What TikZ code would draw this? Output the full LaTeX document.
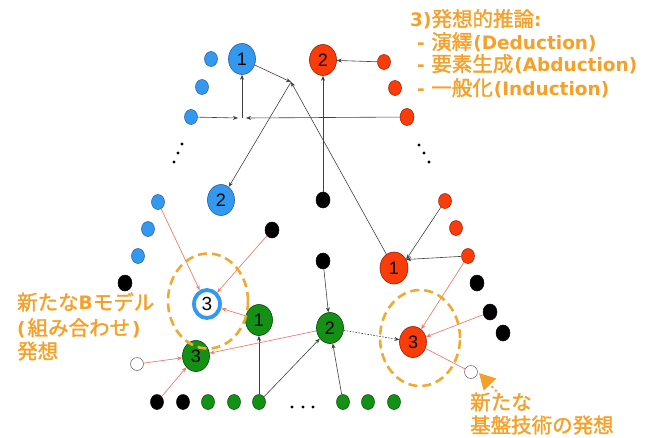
\documentclass[tikz,border=0pt]{standalone}
\usepackage{fontspec}
\setmainfont{DejaVu Sans}
\newfontfamily\cjk{Noto Sans CJK JP}[AutoFakeBold=1.6]
\newfontfamily\numf{Liberation Sans}
\usetikzlibrary{shapes.geometric,arrows.meta}
\definecolor{blueF}{RGB}{51,153,238}
\definecolor{blueD}{RGB}{40,90,160}
\definecolor{redF}{RGB}{250,60,10}
\definecolor{redD}{RGB}{150,30,0}
\definecolor{greenF}{RGB}{20,145,20}
\definecolor{greenD}{RGB}{0,70,0}
\definecolor{pinkL}{RGB}{240,125,110}
\definecolor{orangeT}{RGB}{245,160,40}
\definecolor{orangeD}{RGB}{240,170,50}
\newcommand\cj[1]{{\fontsize{20.5}{22}\selectfont\cjk #1}}
\tikzset{
  big/.style={ellipse, draw, line width=0.6pt, minimum width=27pt, minimum height=31pt, inner sep=0pt, font=\fontsize{18}{18}\selectfont\numf},
  sm/.style={ellipse, draw, line width=0.5pt, minimum width=13pt, minimum height=15pt, inner sep=0pt},
  blueN/.style={fill=blueF, draw=blueD},
  redN/.style={fill=redF, draw=redD},
  greenN/.style={fill=greenF, draw=greenD},
  dot/.style={sm, fill=black, draw=black, minimum width=14pt, minimum height=16pt},
  wdot/.style={circle, draw=black!55, fill=white, line width=0.6pt, minimum size=13pt, inner sep=0pt},
  ring/.style={ellipse, draw=blueF, fill=white, line width=3.8pt, minimum width=26pt, minimum height=28pt, inner sep=0pt, font=\fontsize{19}{19}\selectfont\numf},
  blk/.style={draw=black!75, line width=0.6pt, -{Stealth[length=5pt,width=4pt]}},
  pnk/.style={draw=pinkL, line width=0.7pt, -{Stealth[length=5pt,width=4pt]}},
  dashell/.style={ellipse, draw=orangeD, line width=2.6pt, dash pattern=on 9pt off 5pt, inner sep=0pt},
  otxt/.style={text=orangeT, font=\fontsize{18.5}{22}\selectfont\bfseries, inner sep=0pt, anchor=west}
}
\begin{document}
\begin{tikzpicture}[x=1pt,y=-1pt]
\useasboundingbox (0,0) rectangle (645,437);
% top
\node[big,blueN] (B1) at (242,59) {1};
\node[big,redN] (R2) at (323,60) {2};
\node[sm,blueN] (bs1) at (211,59) {};
\node[sm,blueN] (bs2) at (202,87) {};
\node[sm,blueN] (bs3) at (191,117) {};
\node[sm,redN] (rs1) at (384,62) {};
\node[sm,redN] (rs2) at (395,88) {};
\node[sm,redN, minimum width=14pt, minimum height=17pt] (rs3) at (407,117) {};
\coordinate (J1a) at (238,118);
\coordinate (J1b) at (246,118);
\coordinate (J1) at (242,118);
\draw[blk] (bs3) -- (J1a);
\draw[blk] (rs3) -- (J1b);
\draw[blk] (J1) -- (B1);
\draw[blk] (rs1) -- (R2);
\coordinate (J2) at (291,82);
\node[big,redN, minimum width=28pt, minimum height=32pt] (R1) at (394,268) {1};
\node[big,blueN] (B2) at (221,200) {2};
\draw[blk] (B1) -- (J2);
\draw[blk] (R1) -- (J2);
\draw[blk] (J2) -- (B2);
\node[dot] (k1) at (323,200) {};
\node[dot] (k2) at (323,261) {};
\node[big,greenN] (G2) at (330,328) {2};
\draw[blk] (k1) -- (R2);
\draw[blk] (k2) -- (G2);
% vertical ellipses
\foreach \p in {(182,144),(178,153),(174,162),(419,145),(424,153),(429,162)} \fill \p circle (1.6pt);
% left lower
\node[sm,blueN] (bs4) at (158,202) {};
\node[sm,blueN] (bs5) at (148,229) {};
\node[sm,blueN] (bs6) at (138,256) {};
\node[dot] (k3) at (125,283) {};
\node[dot] (k4) at (272,230) {};
\node[ring] (B3) at (207,304) {3};
\node[big,greenN] (G1) at (259,320) {1};
\node[big,greenN] (G3) at (196,356) {3};
\node[wdot] (w1) at (137,364) {};
% right lower
\node[sm,redN] (rs4) at (445,201) {};
\node[sm,redN] (rs5) at (456,228) {};
\node[sm,redN] (rs6) at (468,256) {};
\node[dot] (k5) at (477,283) {};
\node[dot] (k6) at (490,312) {};
\node[dot] (k7) at (503,333) {};
\node[big,redN] (R3) at (413,342) {3};
\node[wdot] (w2) at (471,372) {};
\draw[blk] (rs4) -- (R1.35);
\draw[blk] (rs6) -- (R1.35);
% bottom row
\node[dot, minimum width=13pt, minimum height=15pt] (b1) at (157,402) {};
\node[dot, minimum width=13pt, minimum height=15pt] (b2) at (183,402) {};
\node[sm,greenN] (g1) at (208,402) {};
\node[sm,greenN] (g2) at (234,402) {};
\node[sm,greenN] (g3) at (259,402) {};
\node[sm,greenN] (g4) at (343,402) {};
\node[sm,greenN] (g5) at (368,402) {};
\node[sm,greenN] (g6) at (394,402) {};
\foreach \x in {292,303,313} \fill (\x,407) circle (1.7pt);
\draw[blk] (g3) -- (G1);
\draw[blk] (g3) -- (G2);
\draw[blk] (g4) -- (G2);
\draw[blk, dash pattern=on 1.5pt off 1.5pt] (G2) -- (R3);
% pink arrows
\draw[pnk] (bs4) -- (B3.118);
\draw[pnk] (k4) -- (B3);
\draw[pnk] (G1) -- (B3);
\draw[pnk] (G2) -- (G3);
\draw[pnk] (w1) -- (G3);
\draw[pnk] (b1) -- (G3);
\draw[pnk] (rs6) -- (R3);
\draw[pnk] (k6) -- (R3);
\draw[draw=pinkL, line width=0.7pt] (R3) -- (w2);
% dashed ellipses
\node[dashell, minimum width=80pt, minimum height=95pt] (E1) at (208,301) {};
\node[dashell, minimum width=80pt, minimum height=96pt] (E2) at (420,338) {};
% orange pointer
\coordinate (tA) at (500,395);
\coordinate (tB) at (479,373);
\draw[orangeT, line width=2pt, dash pattern=on 2pt off 3pt, -{Triangle[length=16pt,width=17pt]}] (tA) -- (tB);
% texts
\node[otxt] (T1) at (410,19) {3)\cj{発想的推論}:};
\node[otxt] (T2) at (417,42) {- \cj{演繹}\kern1pt(Deduction)};
\node[otxt] (T3) at (417,64) {- \cj{要素生成}\kern1pt(Abduction)};
\node[otxt] (T4) at (417,88) {- \cj{一般化}\kern1pt(Induction)};
\node[otxt] (L1) at (17,302) {\cj{新たな}B\cj{モデル}};
\node[otxt] (L2) at (17,328) {(\kern2pt\cj{組み合わせ}\kern2pt)};
\node[otxt] (L3) at (17,351) {\cj{発想}};
\node[otxt] (N1) at (470,402) {\cj{新たな}};
\node[otxt] (N2) at (470,425) {\cj{基盤技術の発想}};
\end{tikzpicture}
\end{document}
